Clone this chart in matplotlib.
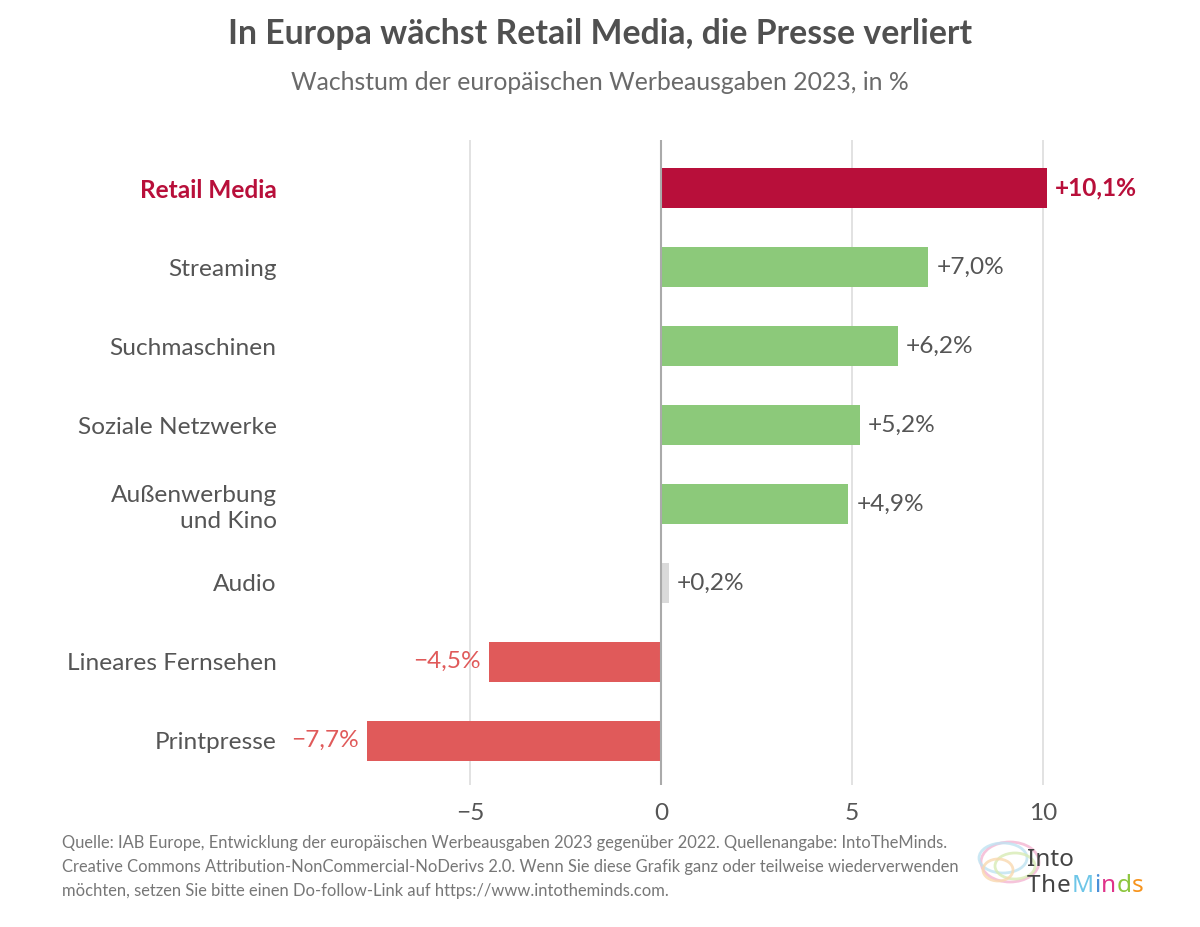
import matplotlib
matplotlib.use("Agg")
import matplotlib.pyplot as plt
from matplotlib.patches import Ellipse

categories = ["Retail Media", "Streaming", "Suchmaschinen", "Soziale Netzwerke",
              "Außenwerbung\nund Kino", "Audio", "Lineares Fernsehen", "Printpresse"]
values = [10.1, 7.0, 6.2, 5.2, 4.9, 0.2, -4.5, -7.7]
value_labels = ["+10,1%", "+7,0%", "+6,2%", "+5,2%", "+4,9%", "+0,2%", "−4,5%", "−7,7%"]
x_ticks = [-5, 0, 5, 10]
x_tick_labels = ["−5", "0", "5", "10"]

title = "In Europa wächst Retail Media, die Presse verliert"
subtitle = "Wachstum der europäischen Werbeausgaben 2023, in %"
footer = ("Quelle: IAB Europe, Entwicklung der europäischen Werbeausgaben 2023 gegenüber 2022. Quellenangabe: IntoTheMinds.\n"
          "Creative Commons Attribution-NonCommercial-NoDerivs 2.0. Wenn Sie diese Grafik ganz oder teilweise wiederverwenden\n"
          "möchten, setzen Sie bitte einen Do-follow-Link auf https://www.intotheminds.com.")

plt.rcParams['font.family'] = ['Lato', 'DejaVu Sans']

RED = "#B80F3A"
GREEN = "#8CC97A"
GREY = "#DADADA"
NEG = "#E05A5A"
TXT = "#555555"

def color_for(i, v):
    if i == 0:
        return RED
    if v < 0:
        return NEG
    if v < 1:
        return GREY
    return GREEN

W, H = 1200, 927
fig = plt.figure(figsize=(12, 9.27), dpi=100)
L, R, T, B = 290, 1150, 140, 785
ax = fig.add_axes([L / W, 1 - B / H, (R - L) / W, (B - T) / H])

zero_px = 661
ppu = 38.2
ax.set_xlim((L - zero_px) / ppu, (R - zero_px) / ppu)
ax.set_ylim(7.56, -0.61)

for t in x_ticks:
    if t == 0:
        ax.axvline(t, color="#AAAAAA", lw=1.5, zorder=3)
    else:
        ax.axvline(t, color="#DDDDDD", lw=1.2, zorder=0)

ys = list(range(len(categories)))
cols = [color_for(i, v) for i, v in enumerate(values)]
ax.barh(ys, values, height=0.51, color=cols, zorder=2)

FS = 17.6
for i, (v, lab) in enumerate(zip(values, value_labels)):
    if v >= 0:
        ax.text(v + 0.22, i, lab, ha="left", va="center", fontsize=FS,
                color=RED if i == 0 else TXT, fontweight="bold" if i == 0 else "normal")
    else:
        ax.text(v - 0.22, i, lab, ha="right", va="center", fontsize=FS, color=NEG)

ax.set_yticks(ys)
ax.set_yticklabels(categories, fontsize=FS, color=TXT, linespacing=1.3)
for i, tl in enumerate(ax.get_yticklabels()):
    tl.set_horizontalalignment("right")
    if i == 0:
        tl.set_color(RED)
        tl.set_fontweight("bold")
ax.tick_params(axis="y", length=0, pad=9.7)

ax.set_xticks(x_ticks)
ax.set_xticklabels(x_tick_labels, fontsize=FS, color=TXT)
ax.tick_params(axis="x", length=0, pad=13)

for s in ax.spines.values():
    s.set_visible(False)

fig.text(600 / W, 1 - 34 / H, title, ha="center", va="center", fontsize=24.3,
         fontweight="bold", color="#505050")
fig.text(600 / W, 1 - 82 / H, subtitle, ha="center", va="center", fontsize=17.8,
         color="#6a6a6a")
fig.text(62 / W, 1 - 835 / H, footer, ha="left", va="top", fontsize=11.9,
         color="#777777", linespacing=1.62)

# logo
for (cx, cy, w, h, c) in [(1010, 862, 58, 40, "#F4B6D2"), (1003, 858, 48, 30, "#BFE3F2"),
                          (1015, 866, 40, 26, "#D8EBB5"), (998, 870, 30, 22, "#F9D9B0")]:
    fig.add_artist(Ellipse((cx / W, 1 - cy / H), w / W, h / H, transform=fig.transFigure,
                           fill=False, ec=c, lw=2, alpha=0.8))
fig.text(1027 / W, 1 - 860 / H, "Into", ha="left", va="center", fontsize=17.5,
         color="#444444", family=["Noto Sans", "DejaVu Sans"], fontweight="light")
fig.canvas.draw()
renderer = fig.canvas.get_renderer()
fx = 1027
for ch, c in zip("TheMinds", ["#444444", "#444444", "#444444", "#6EC6E8", "#4A90D9",
                              "#E0338A", "#8DC63F", "#F7941D"]):
    t = fig.text(fx / W, 1 - 886 / H, ch, ha="left", va="center", fontsize=17.5, color=c,
                 family=["Noto Sans", "DejaVu Sans"], fontweight="light")
    bb = t.get_window_extent(renderer)
    fx += bb.width + 0.6

fig.savefig("out.png", dpi=100, facecolor="white")
